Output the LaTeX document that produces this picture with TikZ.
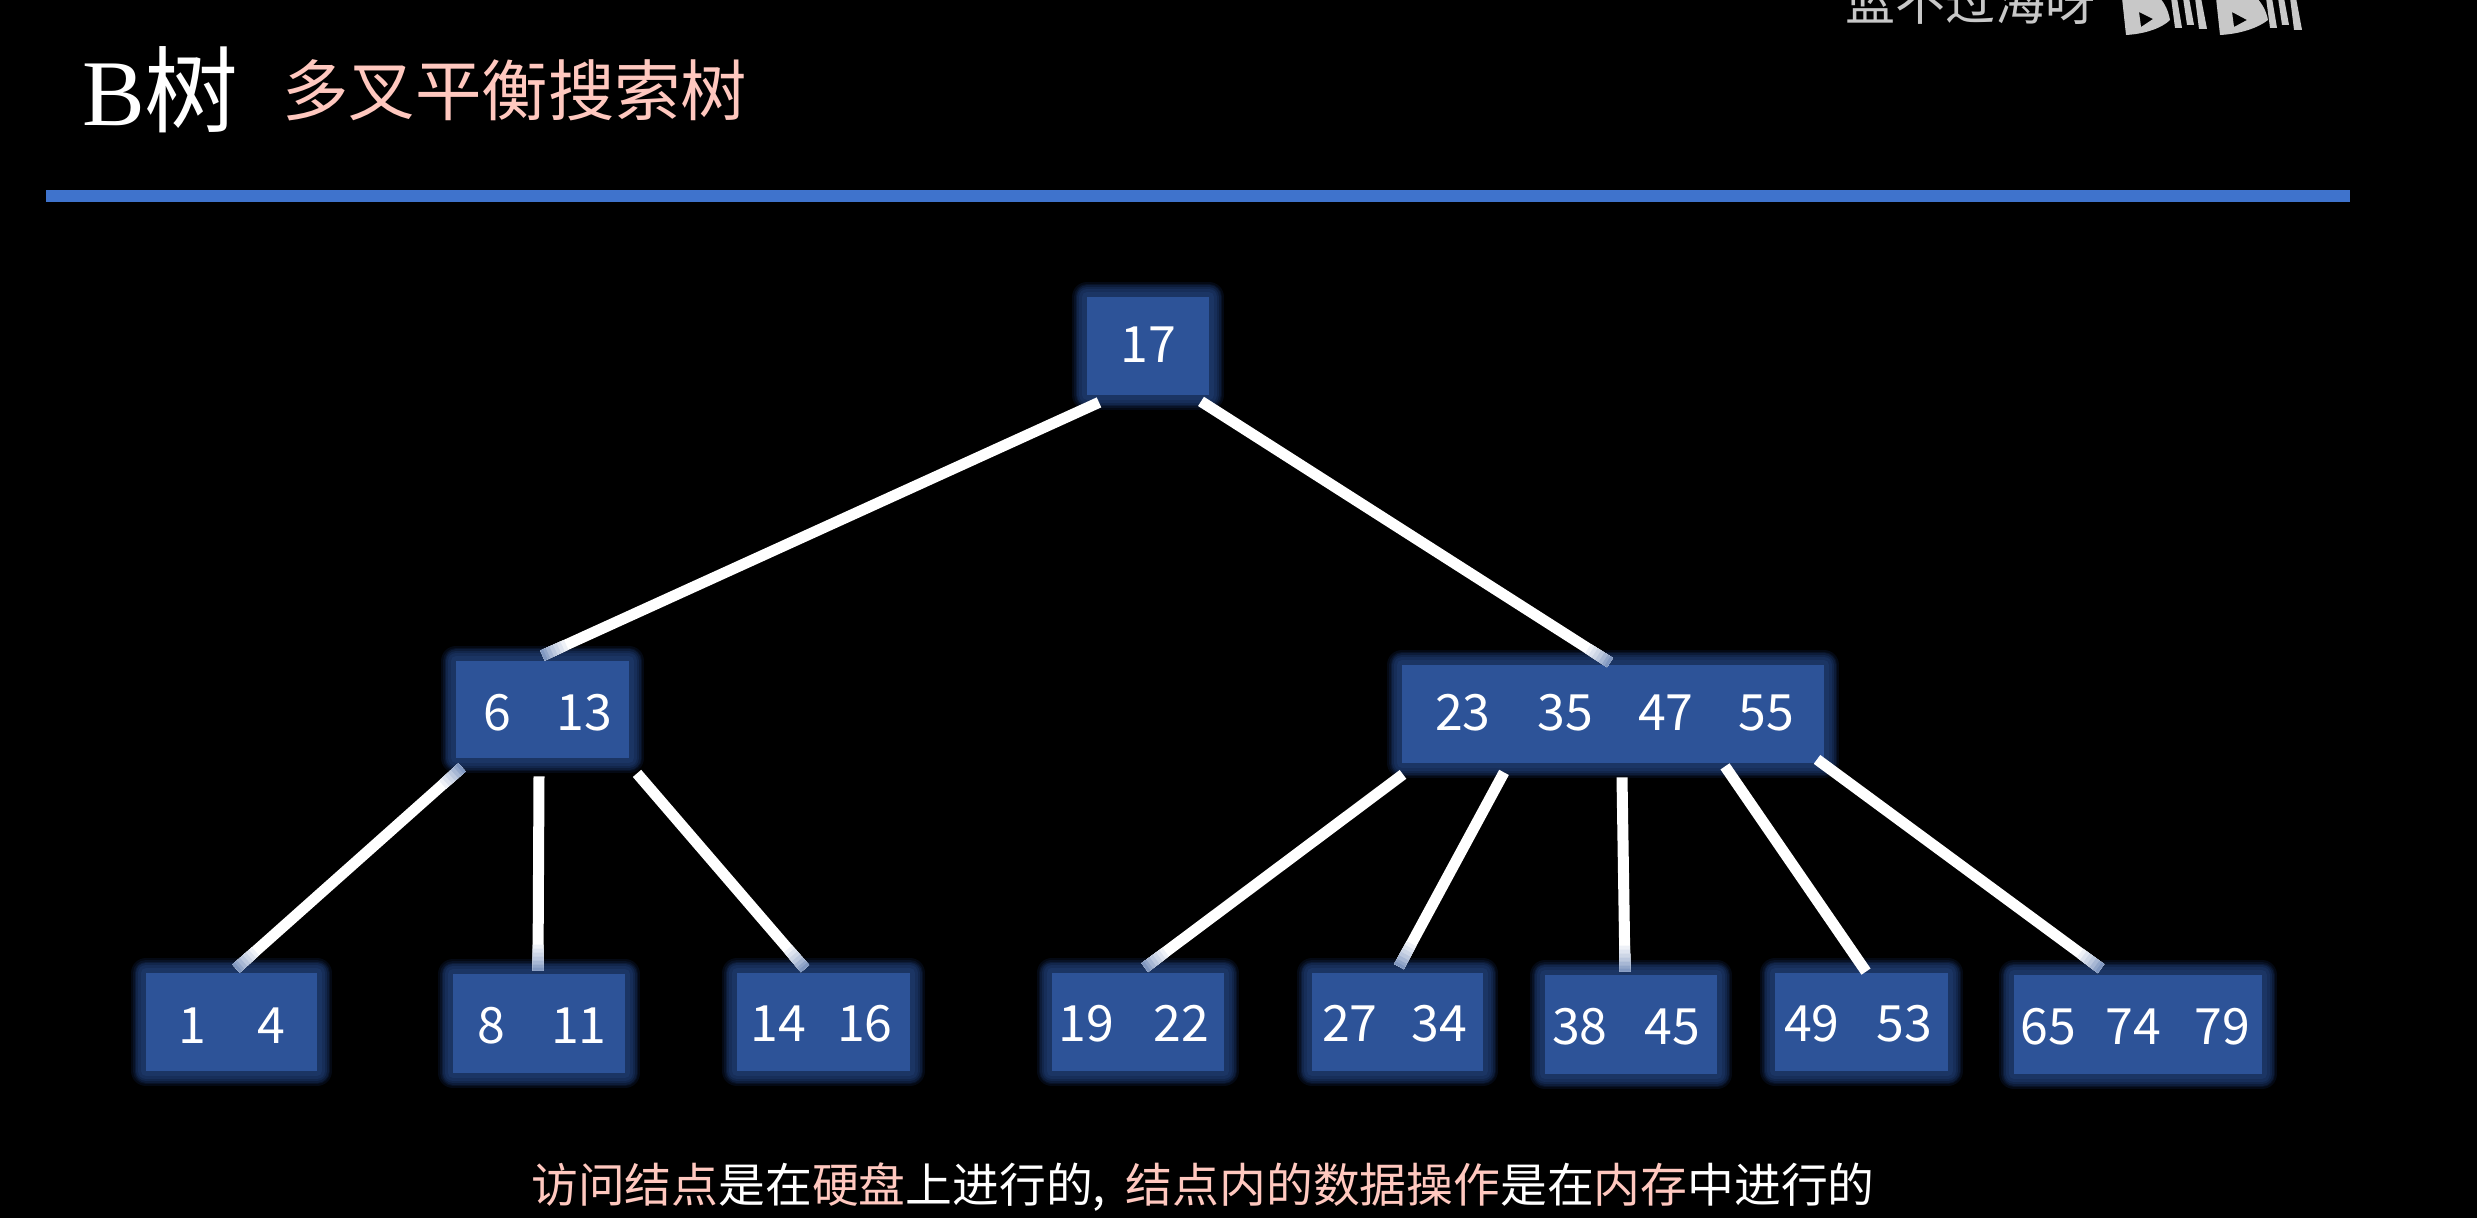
\documentclass[tikz,border=0pt]{standalone}
\usepackage{fontspec}
\setmainfont{Noto Sans CJK SC}
\newfontfamily\latinserif{Liberation Serif}
\usetikzlibrary{calc}
\definecolor{boxblue}{HTML}{2D5398}
\definecolor{barblue}{HTML}{3F73CC}
\definecolor{pinktext}{HTML}{FFC8BF}
\definecolor{greytext}{HTML}{C8C8C8}
\definecolor{glowa}{HTML}{040914}
\definecolor{glowb}{HTML}{081226}
\definecolor{glowc}{HTML}{0D1C39}
\definecolor{glowd}{HTML}{12264B}
\definecolor{glowe}{HTML}{172E59}
\definecolor{glowf}{HTML}{1B3564}
\newcommand{\gp}[1]{\hspace*{#1\dimexpr 0.5pt\relax}}
\tikzset{
  x=0.5pt,y=-0.5pt,
  treebox/.style={rectangle,fill=boxblue,draw=none,text=white,inner sep=0pt,
    text height=18.3pt,text depth=0pt,
    font=\fontsize{25pt}{25pt}\selectfont,line join=round,
    preaction={draw=glowa,line width=15pt},
    preaction={draw=glowb,line width=13pt},
    preaction={draw=glowc,line width=11.5pt},
    preaction={draw=glowd,line width=10pt},
    preaction={draw=glowe,line width=8pt},
    preaction={draw=glowf,line width=5pt}},
  link/.style={draw=white,line width=5.5pt},
}
% box node: name, x1, y1, x2, y2, downward text shift in px, text
\newcommand{\tbox}[7]{%
  \node[treebox,minimum width={(#4-#2)*0.5pt},minimum height={(#5-#3)*0.5pt}] (#1) at ({(#2+#4)/2},{(#3+#5)/2}) {\raisebox{-#6\dimexpr 0.5pt\relax}{#7}};}
% connector fading towards its second end
\newcommand{\fadeend}[2]{%
  \foreach \d/\c in {26/92,22/84,18/76,14/68,10/58,6/48,3/40}{
    \draw[line width=5.5pt,draw=white!\c!boxblue] ($(#2)!\d*0.5pt!(#1)$) -- (#2);
  }}
\newcommand{\conn}[2]{\draw[link] (#1) -- (#2); \fadeend{#1}{#2}}
\begin{document}
\begin{tikzpicture}
\useasboundingbox[fill=black] (0,0) rectangle (2477,1218);
\clip (0,0) rectangle (2477,1218);

% header
\node[anchor=west,text=white,inner sep=0pt,font=\fontsize{47pt}{47pt}\selectfont] (title) at (82,90) {{\latinserif B}\hspace{-0.5pt}树};
\node[anchor=west,text=pinktext,inner sep=0pt,font=\fontsize{33.2pt}{34pt}\selectfont] (subtitle) at (282,90) {多叉平衡搜索树};
\fill[barblue] (46,190) rectangle (2350,202);

% watermark
\node[anchor=west,text=greytext,inner sep=0pt,font=\fontsize{25pt}{25pt}\selectfont] (mark) at (1845,1) {蓝不过海呀};
\begin{scope}[fill=greytext]
  \fill[even odd rule] (2122,-2) -- (2126,35) .. controls (2145,34) and (2162,28) .. (2170,20) .. controls (2168,10) and (2165,4) .. (2160,-2) -- cycle
     (2139,12) -- (2141,27) -- (2153,19) -- cycle;
  \fill (2171,-2) -- (2177,-2) -- (2182,28) -- (2175,28) -- cycle;
  \fill (2183,-2) -- (2189,-2) -- (2194,25) -- (2187,25) -- cycle;
  \fill (2195,-2) -- (2201,-2) -- (2207,29) -- (2199,29) -- cycle;
  \fill[even odd rule] (2216,-2) -- (2220,35) .. controls (2240,34) and (2258,28) .. (2268,20) .. controls (2266,10) and (2262,4) .. (2257,-2) -- cycle
     (2232,12) -- (2234,27) -- (2247,20) -- cycle;
  \fill (2266,-2) -- (2272,-2) -- (2277,28) -- (2270,28) -- cycle;
  \fill (2278,-2) -- (2284,-2) -- (2289,25) -- (2282,25) -- cycle;
  \fill (2290,-2) -- (2296,-2) -- (2302,30) -- (2294,30) -- cycle;
\end{scope}

% boxes
\tbox{root}{1087}{297}{1209}{395}{-2}{17}
\tbox{left}{456}{661}{629}{758}{2.5}{\gp{11}6\gp{45}13}
\tbox{right}{1402}{665}{1824}{763}{-1.5}{\gp{3}23\gp{47}35\gp{45}47\gp{45}55}
\tbox{a}{146}{973}{317}{1071}{3}{1\gp{51}4}
\tbox{b}{453}{974}{625}{1073}{2}{\gp{6}8\gp{46}11}
\tbox{c}{737}{973}{910}{1071}{1}{14\gp{31}16\gp{4}}
\tbox{d}{1051.5}{973}{1224}{1071}{1}{19\gp{39}22\gp{8}}
\tbox{e}{1312}{973}{1483}{1071}{1}{27\gp{34}34\gp{6}}
\tbox{f}{1545}{975}{1717}{1074}{1.5}{38\gp{37}45\gp{10}}
\tbox{g}{1775}{973}{1948}{1071}{1}{49\gp{37}53\gp{7}}
\tbox{h}{2014}{975}{2262}{1074}{1.5}{65\gp{30}74\gp{33}79\gp{6}}

% connectors
\conn{[shift={(-49,7)}]root.south}{[shift={(0,-5)}]left.north}
\conn{[shift={(53,6)}]root.south}{[shift={(-3,-2)}]right.north}
\conn{[shift={(-80.5,9)}]left.south}{[shift={(4.5,-4)}]a.north}
\fadeend{[shift={(4.5,-4)}]a.north}{[shift={(-80.5,9)}]left.south}
\conn{[shift={(-3.5,18)}]left.south}{[shift={(-1,-3)}]b.north}
\conn{[shift={(94.5,15)}]left.south}{[shift={(-18.5,-4)}]c.north}
\conn{[shift={(-210,11)}]right.south}{[shift={(7,-5)}]d.north}
\conn{[shift={(-109,9)}]right.south}{[shift={(1.5,-6)}]e.north}
\conn{[shift={(9,14)}]right.south}{[shift={(-6,-3)}]f.north}
\draw[link] ([shift={(112,3)}]right.south) -- ([shift={(4.5,-1)}]g.north);
\conn{[shift={(204,-4)}]right.south}{[shift={(-37,-6)}]h.north}

% caption
\node[anchor=center,text=white,inner sep=0pt,font=\fontsize{23.4pt}{24pt}\selectfont] (caption) at (1203,1187)
 {\textcolor{pinktext}{访问结点}是在\textcolor{pinktext}{硬盘}上进行的,\hspace{10pt}\textcolor{pinktext}{结点内的数据操作}是在\textcolor{pinktext}{内存}中进行的};
\end{tikzpicture}
\end{document}
